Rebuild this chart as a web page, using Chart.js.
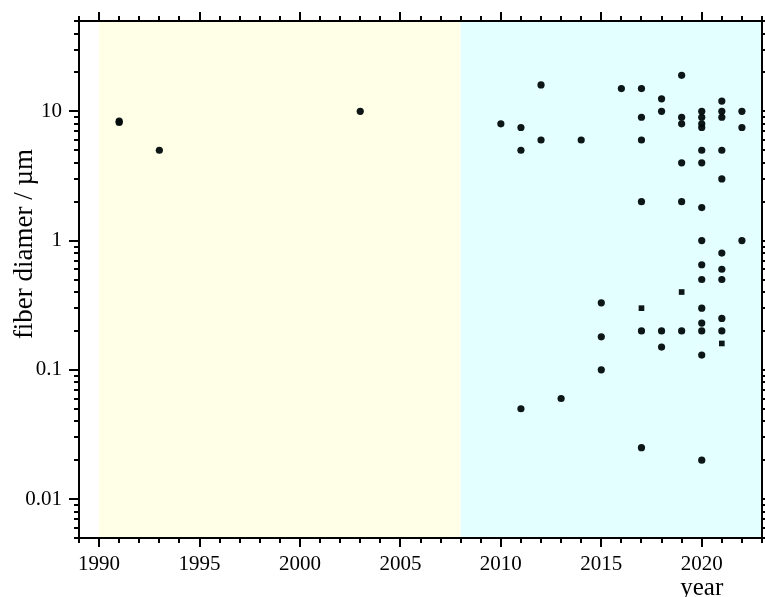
<!DOCTYPE html>
<html>
<head>
<meta charset="utf-8">
<script src="https://cdn.jsdelivr.net/npm/chart.js@4.4.0/dist/chart.umd.min.js"></script>
<style>
  body { margin: 0; background: #fff; }
</style>
</head>
<body>
<canvas id="myChart" width="765" height="597"></canvas>
<script>
// round markers
var circleYears = [1991, 1991, 1993, 2003,
    2010, 2011, 2011, 2011, 2012, 2012, 2013, 2014, 2015, 2015, 2015, 2016,
    2017, 2017, 2017, 2017, 2017, 2017,
    2018, 2018, 2018, 2018,
    2019, 2019, 2019, 2019, 2019, 2019,
    2020, 2020, 2020, 2020, 2020, 2020, 2020, 2020, 2020, 2020, 2020, 2020, 2020, 2020, 2020,
    2021, 2021, 2021, 2021, 2021, 2021, 2021, 2021, 2021, 2021,
    2022, 2022, 2022];
var circleDiam = [8.2, 8.4, 5, 10,
    8, 7.5, 5, 0.05, 16, 6, 0.06, 6, 0.33, 0.18, 0.1, 15,
    15, 9, 6, 2, 0.2, 0.025,
    12.5, 10, 0.2, 0.15,
    19, 9, 8, 4, 2, 0.2,
    10, 9, 8, 7.5, 5, 4, 1.8, 1, 0.65, 0.5, 0.3, 0.23, 0.2, 0.13, 0.02,
    12, 10, 9, 5, 3, 0.8, 0.6, 0.5, 0.25, 0.2,
    10, 7.5, 1];

// square markers
var squareYears = [2017, 2019, 2021];
var squareDiam = [0.3, 0.4, 0.16];

// shaded periods
var bandStart = [1990, 2008];
var bandEnd = [2008, 2023];
var bandColors = ['#ffffe8', '#e3ffff'];

var yLabels = ['0.01', '0.1', '1', '10'];
var xTitle = 'year';
var yTitle = 'fiber diamer / µm';

var FONT = "'Liberation Serif', 'Times New Roman', serif";

function toPoints(xs, ys) {
    return xs.map(function (x, i) { return { x: x, y: ys[i] }; });
}

var framePlugin = {
    id: 'frame',
    beforeDatasetsDraw: function (chart) {
        var ctx = chart.ctx, a = chart.chartArea;
        var xs = chart.scales.x;
        ctx.save();
        for (var i = 0; i < bandStart.length; i++) {
            var x0 = xs.getPixelForValue(bandStart[i]);
            var x1 = xs.getPixelForValue(bandEnd[i]);
            ctx.fillStyle = bandColors[i];
            ctx.fillRect(x0, a.top, x1 - x0, a.bottom - a.top);
        }
        ctx.restore();
    },
    afterDraw: function (chart) {
        var ctx = chart.ctx, a = chart.chartArea;
        var xs = chart.scales.x, ys = chart.scales.y;
        ctx.save();
        ctx.strokeStyle = '#000';
        ctx.lineWidth = 2;
        ctx.strokeRect(a.left, a.top, a.right - a.left, a.bottom - a.top);

        ctx.beginPath();
        // year ticks, top and bottom
        for (var yr = Math.ceil(xs.min); yr <= xs.max; yr++) {
            var px = Math.round(xs.getPixelForValue(yr));
            var len = (yr % 5 === 0) ? 9 : 5;
            ctx.moveTo(px, a.bottom);
            ctx.lineTo(px, a.bottom + len);
            ctx.moveTo(px, a.top);
            ctx.lineTo(px, a.top - len);
        }
        // log ticks, left and right
        for (var e = -3; e <= 2; e++) {
            for (var m = 1; m <= 9; m++) {
                var v = m * Math.pow(10, e);
                if (v < ys.min * 0.999 || v > ys.max * 1.001) continue;
                var py = Math.round(ys.getPixelForValue(v));
                var l = (m === 1) ? 10 : 5;
                ctx.moveTo(a.left, py);
                ctx.lineTo(a.left - l, py);
                ctx.moveTo(a.right, py);
                ctx.lineTo(a.right + l, py);
            }
        }
        ctx.stroke();

        // axis titles
        ctx.fillStyle = '#000';
        ctx.textAlign = 'center';
        ctx.textBaseline = 'alphabetic';
        ctx.font = '25px ' + FONT;
        ctx.fillText(xTitle, xs.getPixelForValue(2020), 595);

        ctx.font = '27px ' + FONT;
        ctx.translate(32, 244);
        ctx.rotate(-Math.PI / 2);
        ctx.fillText(yTitle, 0, 0);
        ctx.restore();
    }
};

var ctx = document.getElementById('myChart').getContext('2d');
var chart = new Chart(ctx, {
    type: 'scatter',
    data: {
        datasets: [{
            label: 'circles',
            data: toPoints(circleYears, circleDiam),
            pointStyle: 'circle',
            pointRadius: 3.6,
            backgroundColor: 'rgba(0,10,10,0.95)',
            borderColor: 'rgba(0,10,10,0.95)',
            borderWidth: 0
        }, {
            label: 'squares',
            data: toPoints(squareYears, squareDiam),
            pointStyle: 'rect',
            pointRadius: 4,
            backgroundColor: 'rgba(0,10,10,0.95)',
            borderColor: 'rgba(0,10,10,0.95)',
            borderWidth: 0
        }]
    },
    options: {
        responsive: false,
        animation: false,
        devicePixelRatio: 1,
        layout: { autoPadding: false, padding: { top: 21, right: 3, left: 0, bottom: 0 } },
        plugins: {
            legend: { display: false },
            tooltip: { enabled: false }
        },
        scales: {
            x: {
                type: 'linear',
                min: 1989,
                max: 2023,
                grid: { display: false, drawTicks: false },
                border: { display: false },
                ticks: {
                    stepSize: 1,
                    autoSkip: false,
                    maxRotation: 0,
                    padding: 14,
                    color: '#000',
                    font: { family: FONT, size: 21 },
                    callback: function (v) { return (v % 5 === 0) ? String(v) : ''; }
                },
                afterFit: function (s) { s.height = 59; s.paddingRight = 0; s.paddingLeft = 0; }
            },
            y: {
                type: 'logarithmic',
                min: 0.005,
                max: 50,
                grid: { display: false, drawTicks: false },
                border: { display: false },
                ticks: {
                    autoSkip: false,
                    padding: 17,
                    color: '#000',
                    font: { family: FONT, size: 21 },
                    callback: function (v) {
                        for (var i = 0; i < yLabels.length; i++) {
                            if (Math.abs(v / parseFloat(yLabels[i]) - 1) < 1e-6) return yLabels[i];
                        }
                        return '';
                    }
                },
                afterFit: function (s) { s.width = 79; s.paddingTop = 0; s.paddingBottom = 0; }
            }
        }
    },
    plugins: [framePlugin]
});
</script>
</body>
</html>
